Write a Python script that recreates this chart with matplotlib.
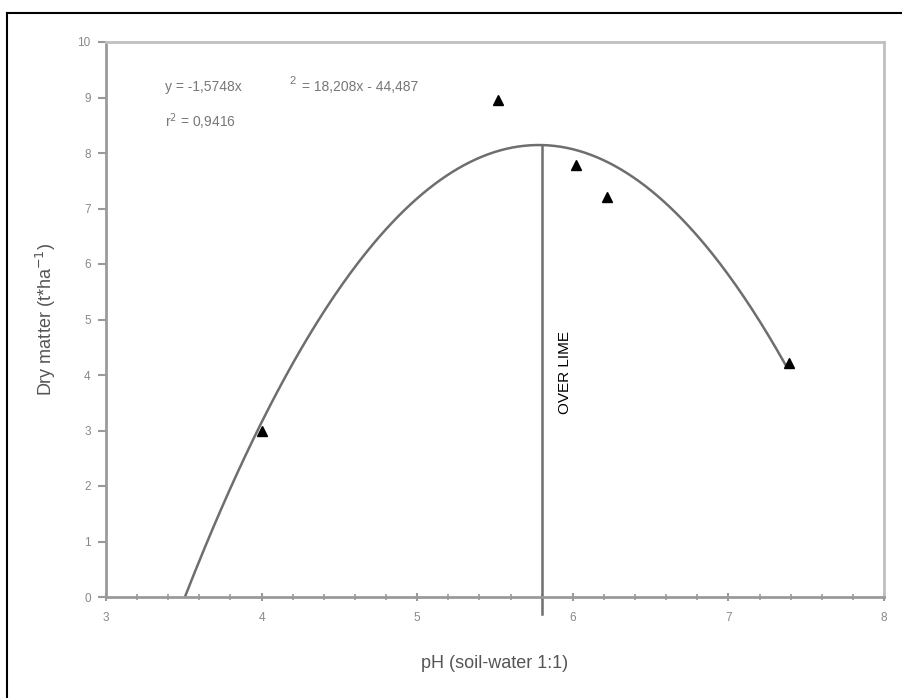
import numpy as np
import matplotlib
matplotlib.use("Agg")
import matplotlib.pyplot as plt
from matplotlib.ticker import MultipleLocator

# data
ph = [4.0, 5.52, 6.02, 6.22, 7.39]
dry_matter = [3.0, 8.95, 7.78, 7.2, 4.22]

# trendline as printed on the chart: y = a x^2 + b x + c
coef = [-1.5748, 18.208, -44.487]
over_lime_ph = 5.8

plt.rcParams['font.family'] = ['Liberation Sans', 'DejaVu Sans']

fig = plt.figure(figsize=(9.02, 6.98), dpi=100)
ax = fig.add_axes([106/902, 1 - 597/698, (884 - 106)/902, (597 - 42)/698])

# curve from the root to the last point
root = np.min(np.roots(coef).real)
xs = np.linspace(root, max(ph) - 0.02, 300)
ax.plot(xs, np.polyval(coef, xs), color='#6e6e6e', lw=1.8, zorder=2)

ax.plot(ph, dry_matter, linestyle='none', marker='^', color='black',
        markersize=7, zorder=3)

# over lime line up to the curve
top = np.polyval(coef, over_lime_ph)
ax.plot([over_lime_ph, over_lime_ph], [-0.3, top], color='#6e6e6e', lw=1.8,
        clip_on=False, zorder=2)
ax.text(5.95, 4.05, 'OVER LIME', rotation=90, ha='center', va='center',
        fontsize=11, color='black')

eq_color = '#777777'
ax.text(3.38, 9.19, 'y = -1,5748x', fontsize=10, color=eq_color, va='center')
ax.text(4.18, 9.3, '2', fontsize=8, color=eq_color, va='center')
ax.text(4.26, 9.19, '= 18,208x - 44,487', fontsize=10, color=eq_color, va='center')
ax.text(3.38, 8.56, 'r$^2$ = 0,9416', fontsize=10, color=eq_color, va='center')

ax.set_xlim(3, 8)
ax.set_ylim(0, 10)
ax.xaxis.set_major_locator(MultipleLocator(1))
ax.xaxis.set_minor_locator(MultipleLocator(0.2))
ax.yaxis.set_major_locator(MultipleLocator(1))

for s in ['left', 'bottom']:
    ax.spines[s].set_color('#9a9a9a')
    ax.spines[s].set_linewidth(2)
for s in ['top', 'right']:
    ax.spines[s].set_color('#c0c0c0')
    ax.spines[s].set_linewidth(2)

ax.tick_params(axis='x', which='major', direction='inout', length=6,
               width=1.5, color='#9a9a9a', labelsize=8.5, labelcolor='#888888', pad=8)
ax.tick_params(axis='x', which='minor', direction='inout', length=5,
               width=1.2, color='#9a9a9a')
ax.tick_params(axis='y', direction='out', length=6, width=1.5,
               color='#9a9a9a', labelsize=8.5, labelcolor='#888888', pad=5)

ax.set_xlabel('pH (soil-water 1:1)', fontsize=13, color='#555555', labelpad=22)
ax.set_ylabel('Dry matter (t*ha$^{-1}$)', fontsize=13, color='#555555', labelpad=14)

# outer frame (left and top edges)
fig.add_artist(plt.Line2D([7/902, 7/902], [0, 1 - 13/698], color='black', lw=1.5))
fig.add_artist(plt.Line2D([7/902, 1], [1 - 13/698, 1 - 13/698], color='black', lw=1.5))

fig.savefig('out.png', dpi=100)
